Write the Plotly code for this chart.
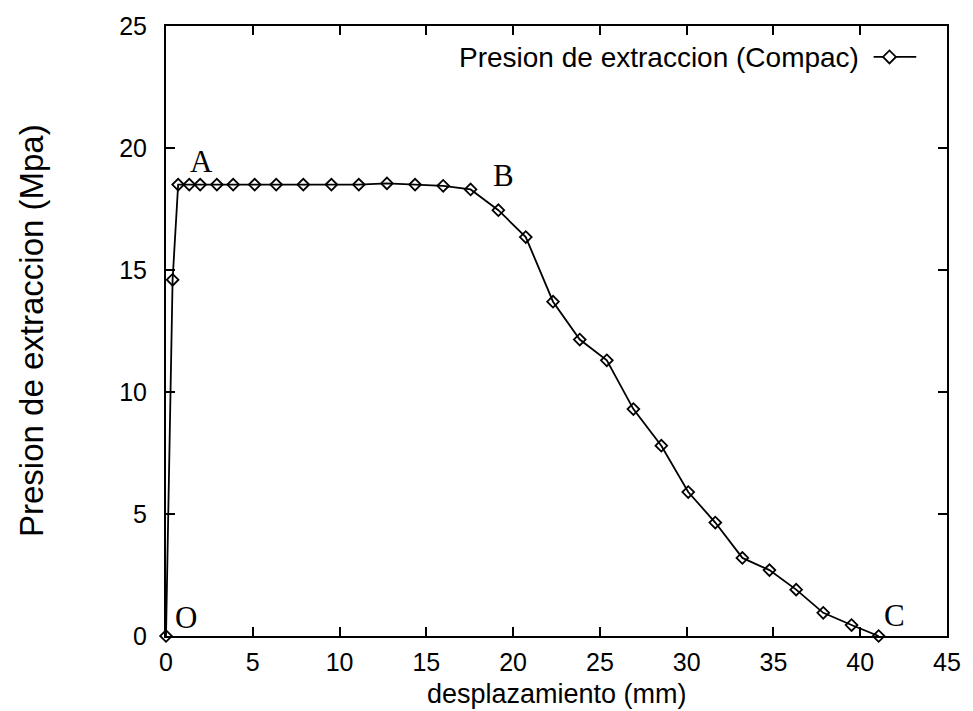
import plotly.graph_objects as go

# Data
desplazamiento = [0, 0.38, 0.70, 1.34, 1.97, 2.93, 3.87, 5.11, 6.35, 7.91, 9.53, 11.11,
                  12.73, 14.35, 15.97, 17.55, 19.15, 20.73, 22.30, 23.84, 25.40, 26.93,
                  28.54, 30.09, 31.65, 33.21, 34.77, 36.31, 37.87, 39.50, 41.06]
presion = [0, 14.6, 18.5, 18.5, 18.5, 18.5, 18.5, 18.5, 18.5, 18.5, 18.5, 18.5,
           18.55, 18.5, 18.45, 18.3, 17.45, 16.35, 13.7, 12.15, 11.3, 9.3,
           7.8, 5.9, 4.65, 3.2, 2.7, 1.9, 0.95, 0.45, 0.0]

point_labels = ["A", "B", "C", "O"]
point_label_x = [2.03, 19.46, 41.97, 1.17]
point_label_y = [19.44, 18.87, 0.86, 0.74]

x_ticks = [0, 5, 10, 15, 20, 25, 30, 35, 40, 45]
y_ticks = [0, 5, 10, 15, 20, 25]

serie_name = "Presion de extraccion (Compac)"
x_title = "desplazamiento (mm)"
y_title = "Presion de extraccion (Mpa)"

SANS = "Liberation Sans, Arial, sans-serif"
SERIF = "Liberation Serif, Times New Roman, serif"

fig = go.Figure()
fig.add_trace(go.Scatter(
    x=desplazamiento, y=presion, mode="lines+markers", name=serie_name,
    line=dict(color="black", width=1.8),
    marker=dict(symbol="diamond-open", size=9, color="black", line=dict(width=1.8)),
    showlegend=False, cliponaxis=False,
))

axis_common = dict(
    showline=True, linecolor="black", linewidth=2, mirror="allticks",
    ticks="inside", ticklen=9, tickwidth=1.6, tickcolor="black",
    showgrid=False, zeroline=False,
    tickfont=dict(family=SANS, size=25, color="black"),
)

fig.update_xaxes(range=[0, 45], tickvals=x_ticks, ticktext=[str(v) for v in x_ticks],
                 ticklabelstandoff=3, **axis_common)
fig.update_yaxes(range=[0, 25], tickvals=y_ticks, ticktext=[str(v) for v in y_ticks],
                 ticklabelstandoff=12, **axis_common)

annotations = []
for t, ax_, ay_ in zip(point_labels, point_label_x, point_label_y):
    annotations.append(dict(x=ax_, y=ay_, xref="x", yref="y", text=t, showarrow=False,
                            font=dict(family=SERIF, size=31, color="black"),
                            xanchor="center", yanchor="middle"))

# axis titles
annotations.append(dict(x=0.5, y=0, xref="paper", yref="paper", text=x_title,
                        showarrow=False, xanchor="center", yanchor="middle", yshift=-58,
                        font=dict(family=SANS, size=27, color="black")))
annotations.append(dict(x=0, y=0.5, xref="paper", yref="paper", text=y_title,
                        showarrow=False, xanchor="center", yanchor="middle", xshift=-135,
                        textangle=-90, font=dict(family=SANS, size=33, color="black")))

# manual legend (text on left, sample on right, as in gnuplot)
W, H = 787.5, 612.0
def px(xp):
    return (xp - 165.5) / W
def py(yp):
    return (636 - yp) / H

annotations.append(dict(x=px(866), y=py(56), xref="paper", yref="paper", text=serie_name,
                        showarrow=False, xanchor="right", yanchor="middle",
                        font=dict(family=SANS, size=28, color="black")))

shapes = [
    dict(type="line", xref="paper", yref="paper", x0=px(879), x1=px(922), y0=py(55), y1=py(55),
         line=dict(color="black", width=1.8)),
    dict(type="path", xref="paper", yref="paper",
         path=f"M {px(888.5)} {py(55)} L {px(895)} {py(48.5)} L {px(901.5)} {py(55)} L {px(895)} {py(61.5)} Z",
         line=dict(color="black", width=1.8), fillcolor="white"),
]

fig.update_layout(
    width=973, height=711,
    margin=dict(l=165.5, r=20, t=24, b=75),
    paper_bgcolor="white", plot_bgcolor="white",
    annotations=annotations, shapes=shapes,
    font=dict(family=SANS, color="black"),
)

fig.write_html("out.html")
